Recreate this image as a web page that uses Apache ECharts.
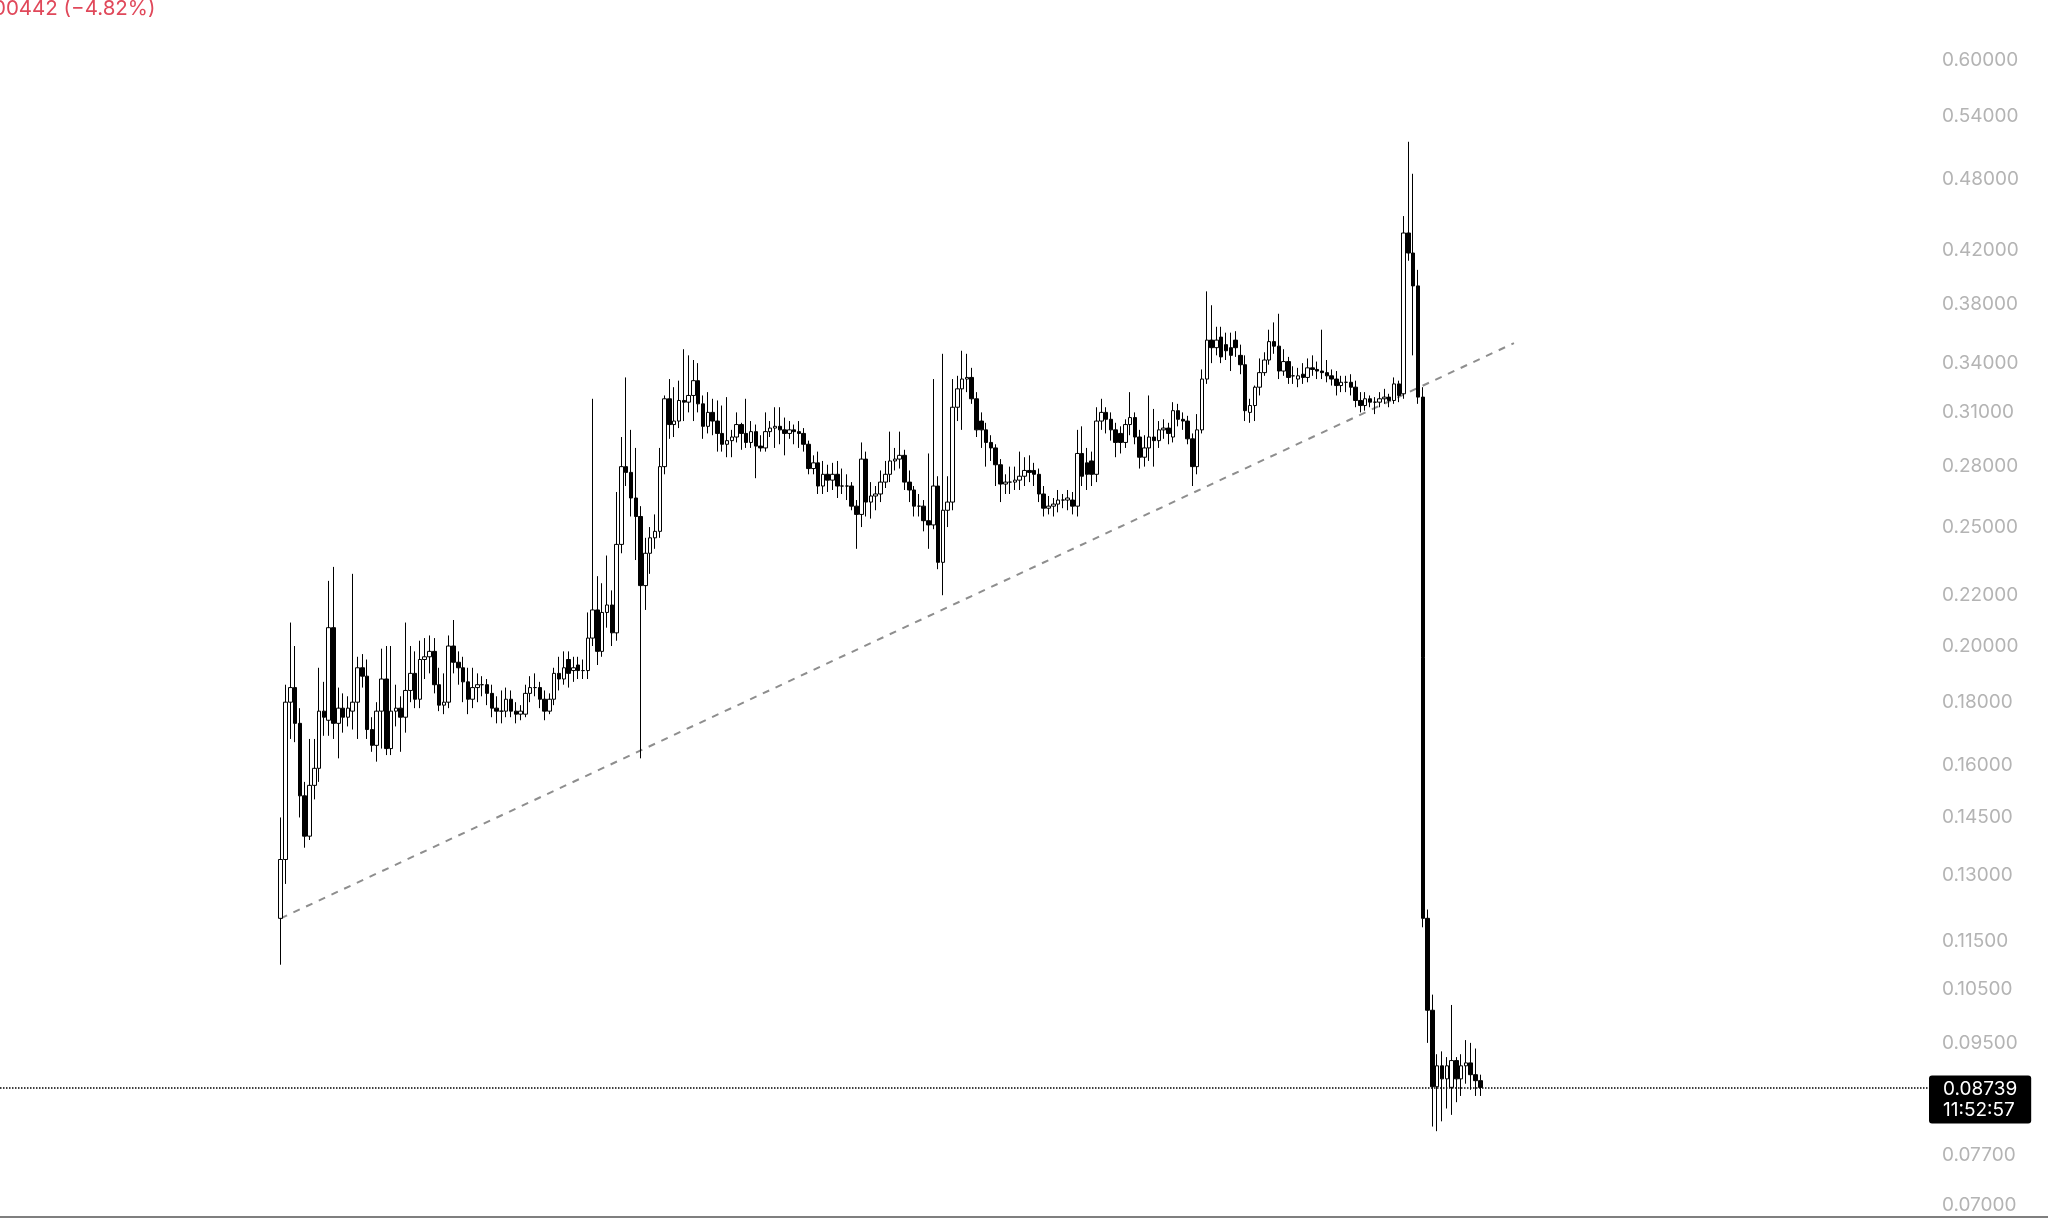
<!DOCTYPE html>
<html><head><meta charset="utf-8">
<script src="https://cdn.jsdelivr.net/npm/echarts@6/dist/echarts.min.js"></script>
<style>html,body{margin:0;padding:0;background:#fff;overflow:hidden}#c{width:2048px;height:1218px}</style>
</head><body><div id="c"></div><script>
// ---- data ----
const opens = [.120,.134,.180,.185,.173,.151,.140,.154,.159,.177,.174,.207,.173,.178,.175,.177,.180,.192,.189,.171,
.166,.177,.188,.165,.177,.178,.175,.184,.190,.181,.195,.196,.198,.186,.179,.180,.200,.194,.192,.187,
.181,.185,.186,.186,.183,.178,.177,.177,.181,.177,.176,.176,.183,.185,.185,.181,.177,.181,.190,.188,
.195,.191,.193,.191,.191,.203,.214,.198,.213,.216,.205,.242,.280,.277,.264,.255,.224,.238,.245,.248,
.280,.318,.303,.305,.317,.316,.320,.329,.315,.302,.310,.305,.298,.292,.294,.296,.303,.298,.293,.299,
.291,.290,.299,.301,.302,.300,.298,.300,.299,.298,.292,.279,.282,.270,.276,.273,.276,.270,.270,.270,
.260,.256,.284,.262,.265,.266,.272,.276,.283,.284,.286,.272,.268,.260,.260,.253,.251,.270,.234,.258,
.262,.313,.324,.330,.331,.318,.305,.300,.293,.290,.281,.271,.272,.272,.273,.275,.278,.278,.276,.266,
.259,.260,.261,.263,.263,.263,.260,.287,.282,.283,.276,.305,.310,.306,.300,.298,.293,.303,.307,.296,
.285,.290,.296,.294,.300,.301,.296,.311,.306,.305,.295,.280,.300,.330,.355,.350,.357,.352,.350,.355,
.345,.339,.310,.314,.325,.334,.342,.354,.351,.335,.341,.332,.330,.333,.331,.337,.336,.335,.334,.332,
.330,.326,.328,.328,.325,.317,.314,.318,.316,.316,.318,.319,.317,.327,.321,.434,.418,.393,.319,.120,
.101,.0875,.091,.0888,.0874,.0919,.0888,.091,.0915,.0895,.0885];
const closes = [.134,.180,.185,.173,.151,.140,.154,.159,.177,.175,.207,.173,.178,.175,.178,.180,.192,.189,.171,.166,
.177,.188,.165,.177,.178,.175,.184,.190,.181,.195,.196,.198,.186,.179,.180,.200,.194,.192,.187,.181,
.185,.186,.186,.183,.178,.177,.177,.181,.177,.176,.177,.183,.185,.185,.181,.177,.181,.190,.188,.192,
.190,.192,.191,.191,.203,.214,.198,.213,.216,.205,.242,.280,.277,.264,.255,.224,.238,.245,.248,.280,
.318,.303,.305,.317,.316,.320,.329,.315,.302,.310,.305,.298,.292,.294,.296,.303,.298,.293,.299,.291,
.290,.299,.301,.302,.300,.298,.300,.299,.298,.292,.279,.282,.270,.276,.273,.276,.270,.270,.270,.260,
.256,.284,.262,.265,.266,.272,.276,.283,.284,.286,.272,.268,.260,.260,.253,.251,.270,.234,.258,.262,
.313,.324,.330,.331,.318,.300,.300,.293,.290,.281,.271,.272,.272,.273,.275,.278,.277,.276,.266,.259,
.260,.261,.263,.263,.264,.260,.287,.275,.276,.276,.305,.310,.306,.300,.293,.293,.303,.307,.296,.285,
.290,.296,.294,.300,.301,.298,.311,.306,.305,.295,.280,.300,.330,.355,.350,.355,.344,.348,.345,.350,
.339,.311,.314,.325,.334,.342,.354,.351,.335,.341,.331,.332,.332,.331,.337,.336,.335,.334,.332,.330,
.326,.328,.328,.325,.317,.314,.318,.316,.316,.318,.319,.317,.327,.320,.434,.418,.393,.319,.120,.101,
.0875,.091,.0888,.091,.0919,.0888,.091,.0915,.0895,.0885,.08739];
const lows = [.110,.128,.168,.167,.145,.137,.139,.150,.155,.169,.169,.168,.162,.170,.172,.171,.168,.185,.168,.164,
.161,.165,.163,.163,.172,.164,.170,.180,.178,.178,.188,.190,.183,.177,.176,.178,.190,.186,.180,.176,
.178,.180,.182,.179,.175,.173,.173,.175,.175,.173,.174,.175,.180,.182,.178,.174,.176,.179,.184,.186,
.185,.187,.188,.188,.188,.200,.193,.196,.207,.200,.202,.238,.270,.255,.235,.162,.214,.229,.240,.245,
.276,.295,.296,.301,.305,.310,.305,.310,.295,.298,.297,.288,.288,.285,.285,.293,.289,.290,.290,.274,
.288,.288,.296,.290,.292,.286,.295,.292,.290,.288,.276,.276,.266,.266,.267,.268,.264,.266,.263,.258,
.240,.250,.255,.254,.258,.262,.269,.272,.278,.279,.268,.262,.255,.255,.248,.240,.249,.231,.220,.250,
.258,.305,.300,.322,.315,.296,.290,.280,.283,.270,.262,.266,.266,.268,.268,.270,.272,.270,.262,.255,
.256,.255,.257,.259,.258,.256,.255,.270,.268,.270,.272,.300,.298,.294,.285,.287,.290,.297,.292,.279,
.280,.283,.280,.290,.295,.292,.293,.302,.300,.292,.270,.276,.298,.327,.340,.345,.340,.342,.335,.344,
.333,.305,.304,.305,.320,.332,.339,.346,.330,.332,.327,.327,.325,.327,.328,.332,.330,.330,.328,.326,
.320,.322,.322,.320,.313,.310,.311,.313,.309,.313,.315,.313,.315,.316,.318,.412,.345,.315,.118,.095,
.0812,.0805,.082,.084,.083,.085,.086,.088,.087,.086,.086];
const highs = [.145,.186,.209,.200,.178,.155,.168,.168,.192,.187,.226,.232,.185,.183,.182,.229,.196,.197,.195,.175,
.180,.199,.200,.200,.186,.182,.209,.200,.198,.202,.203,.204,.203,.192,.190,.204,.210,.198,.196,.192,
.192,.190,.189,.188,.186,.182,.184,.185,.184,.180,.179,.186,.189,.190,.187,.184,.183,.192,.196,.198,
.198,.196,.196,.195,.213,.318,.228,.225,.237,.222,.267,.296,.331,.300,.290,.260,.245,.250,.256,.290,
.320,.330,.325,.329,.349,.345,.342,.340,.320,.322,.318,.317,.314,.319,.300,.310,.304,.318,.305,.303,
.297,.310,.305,.313,.313,.307,.305,.303,.305,.301,.294,.286,.288,.283,.281,.282,.283,.279,.276,.272,
.263,.293,.288,.272,.270,.278,.283,.299,.290,.299,.289,.278,.270,.266,.263,.287,.330,.275,.346,.275,
.330,.332,.348,.346,.337,.322,.310,.304,.297,.292,.284,.276,.280,.280,.288,.285,.286,.282,.279,.270,
.265,.264,.268,.266,.268,.267,.300,.302,.290,.288,.313,.318,.313,.310,.304,.302,.306,.322,.310,.300,
.297,.320,.312,.305,.306,.304,.316,.315,.310,.308,.298,.309,.336,.389,.379,.364,.364,.360,.360,.361,
.352,.345,.318,.326,.343,.347,.362,.367,.373,.349,.344,.338,.337,.340,.343,.345,.341,.362,.342,.336,
.335,.332,.332,.333,.329,.322,.322,.320,.319,.322,.324,.321,.331,.329,.448,.515,.485,.405,.325,.122,
.104,.093,.0935,.0925,.102,.0925,.093,.0955,.095,.094,.0895];
const tickValues = [0.60, 0.54, 0.48, 0.42, 0.38, 0.34, 0.31, 0.28, 0.25, 0.22, 0.20, 0.18, 0.16, 0.145, 0.13, 0.115, 0.105, 0.095, 0.077, 0.07];
const lastPrice = 0.08739;
const lastTime = '11:52:57';
const changeText = '00442 (\u22124.82%)';
const trendStart = [0, 0.120];   // [candle index, price]
const trendEnd = [257, 0.353];
const yMin = 0.06853, yMax = 0.6719;

// ---- layout of the category axis (empty slots on both sides) ----
const PAD_LEFT = 58, TOTAL = 402;
const categories = [];
const candleData = [];
for (let k = 0; k < TOTAL; k++) {
  categories.push(String(k));
  const i = k - PAD_LEFT;
  if (i >= 0 && i < opens.length) candleData.push([opens[i], closes[i], lows[i], highs[i]]);
  else candleData.push(['-', '-', '-', '-']);
}

const chart = echarts.init(document.getElementById('c'), null, {renderer: 'canvas'});
chart.setOption({
  animation: false,
  backgroundColor: '#ffffff',
  grid: {left: 0, right: 119, top: 0, bottom: 1, containLabel: false, outerBoundsMode: 'none'},
  xAxis: {
    type: 'category', data: categories, boundaryGap: true,
    axisLine: {show: true, lineStyle: {color: '#7f7f7f', width: 2}},
    axisTick: {show: false}, axisLabel: {show: false}, splitLine: {show: false}
  },
  yAxis: {
    type: 'log', position: 'right', min: yMin, max: yMax,
    axisLine: {show: false}, axisTick: {show: false}, splitLine: {show: false},
    axisLabel: {
      customValues: tickValues, showMinLabel: true, showMaxLabel: true, hideOverlap: false,
      formatter: v => Number(v).toFixed(5),
      color: '#b4b4b4', fontSize: 19, fontFamily: 'Inter', margin: 13, align: 'left'
    }
  },
  series: [
    {
      type: 'line', z: 1, silent: true, symbol: 'none',
      data: [[PAD_LEFT + trendStart[0], trendStart[1]], [PAD_LEFT + trendEnd[0], trendEnd[1]]],
      lineStyle: {color: '#8e8e8e', width: 2, type: [7, 7]}
    },
    {
      type: 'candlestick', z: 2, data: candleData, barWidth: 4,
      itemStyle: {color: '#ffffff', color0: '#000000', borderColor: '#000000', borderColor0: '#000000', borderWidth: 1},
      markLine: {
        silent: true, symbol: ['none', 'none'], animation: false, precision: 5,
        lineStyle: {type: 'dotted', color: '#000000', width: 1.5},
        label: {
          show: true, position: 'end', distance: 0, offset: [0, 12],
          formatter: lastPrice.toFixed(5) + '\n' + lastTime,
          backgroundColor: '#000000', color: '#ffffff', fontSize: 19, fontFamily: 'Inter',
          lineHeight: 21, padding: [3, 14, 3, 14], borderRadius: 3
        },
        emphasis: {disabled: true},
        data: [{yAxis: lastPrice}]
      }
    }
  ],
  graphic: [
    {type: 'text', x: -7, y: -2, silent: true, style: {text: changeText, fill: '#e0485a', font: '20.5px Inter'}},
    {type: 'rect', silent: true, shape: {x: 1929, y: 1216, width: 119, height: 2}, style: {fill: '#7f7f7f'}}
  ]
});
</script></body></html>
